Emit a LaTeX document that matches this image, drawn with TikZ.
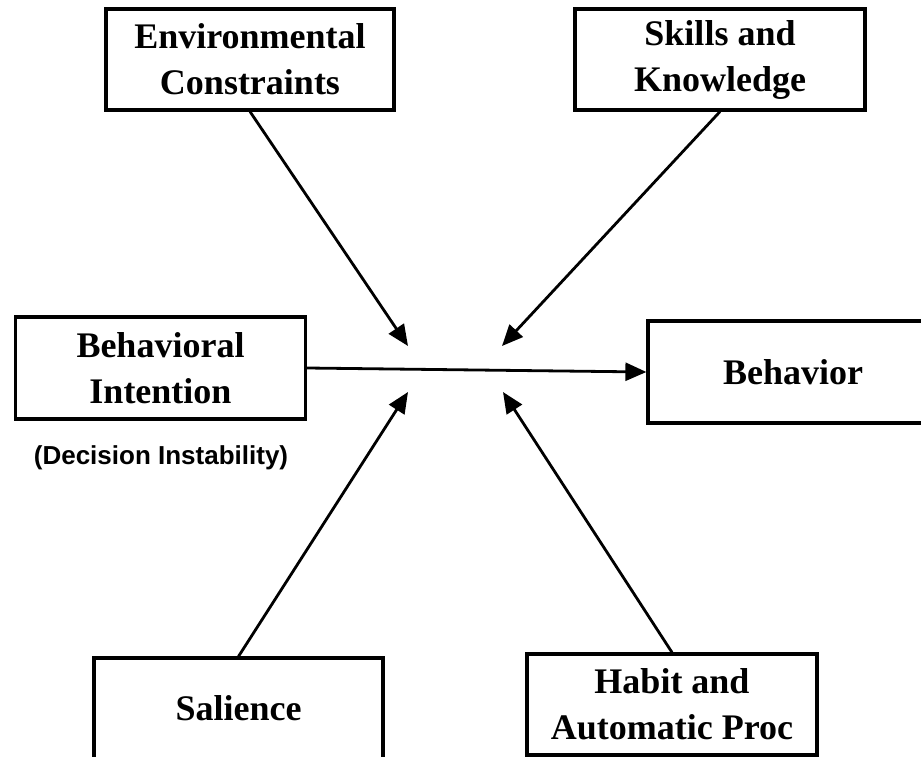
\documentclass[tikz,border=0pt]{standalone}
\usepackage{fontspec}
\setmainfont{Liberation Serif}
\newfontfamily\labelfont{Liberation Sans}
\usetikzlibrary{arrows.meta}
\begin{document}
\begin{tikzpicture}[x=1pt, y=-1pt,
	factor/.style={draw, line width=3.2pt, minimum width=290pt, minimum height=101pt, align=center, inner sep=0pt, font=\bfseries\fontsize{36}{46}\selectfont},
	influence/.style={line width=2.8pt, -{Triangle[length=21pt,width=18pt]}}]
\useasboundingbox (0,0) rectangle (921,757);

\node [factor, minimum width=288pt] (env) at (250,59.5) {Environmental\\Constraints};
\node [factor] (skills) at (720,59.5) {Skills and\\Knowledge};
\node [factor, minimum height=102pt] (intent) at (160.5,368) {Behavioral\\Intention};
\node [factor, minimum height=102pt] (behav) at (793,372) {Behavior};
\node [factor, minimum width=289pt] (sal) at (238.5,708.5) {Salience};
\node [factor] (habit) at (672,704.5) {Habit and\\Automatic Proc};

\node [font=\labelfont\bfseries\fontsize{26}{30}\selectfont] (instab) at (161,458) {(Decision Instability)};

% arrow tips around the main path
\coordinate (envtip) at (408,346);
\coordinate (skilltip) at (502,346);
\coordinate (saltip) at (408,392);
\coordinate (habittip) at (503,392);

\draw [influence] (intent.east) -- (behav.west);
\draw [influence] (env.south) -- (envtip);
\draw [influence] (skills.south) -- (skilltip);
\draw [influence] (sal.north) -- (saltip);
\draw [influence] (habit.north) -- (habittip);
\end{tikzpicture}
\end{document}
